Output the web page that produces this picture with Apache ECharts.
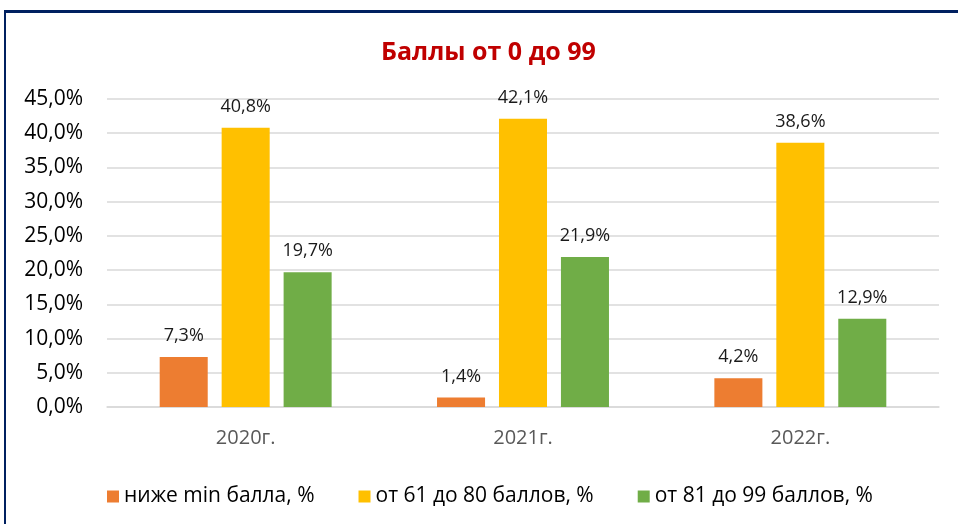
<!DOCTYPE html>
<html>
<head>
<meta charset="utf-8">
<script src="https://cdn.jsdelivr.net/npm/echarts@6/dist/echarts.min.js"></script>
<style>
  html, body { margin: 0; padding: 0; background: #fff; }
  #frame {
    position: absolute; left: 4px; top: 10px; width: 970px; height: 530px;
    border-left: 2px solid #002060; border-top: 3px solid #002060;
  }
  #chart { position: absolute; left: 0; top: 0; width: 958px; height: 524px; }
</style>
</head>
<body>
<div id="frame"></div>
<div id="chart"></div>
<script>
const categories = ["2020г.", "2021г.", "2022г."];
const seriesNames = ["ниже min балла, %", "от 61 до 80 баллов, %", "от 81 до 99 баллов, %"];
const belowMin = [7.3, 1.4, 4.2];
const from61to80 = [40.8, 42.1, 38.6];
const from81to99 = [19.7, 21.9, 12.9];
const colors = ["#ED7D31", "#FFC000", "#70AD47"];

const fmt = v => v.toFixed(1).replace(".", ",") + "%";
const font = "'Open Sans', 'Noto Sans', sans-serif";

function makeSeries(name, data) {
  return {
    name: name,
    type: "bar",
    data: data,
    barGap: "29%",
    barCategoryGap: "38%",
    label: {
      show: true,
      position: "top",
      distance: 12,
      color: "#1a1a1a",
      fontSize: 18,
      fontFamily: font,
      formatter: p => fmt(p.value)
    }
  };
}

const chart = echarts.init(document.getElementById("chart"));
chart.setOption({
  animation: false,
  color: colors,
  title: {
    text: "Баллы от 0 до 99",
    left: 376,
    top: 35,
    textStyle: { color: "#C00000", fontSize: 25, fontWeight: "bold", fontFamily: font }
  },
  legend: {
    top: 481,
    left: 102,
    itemWidth: 12,
    itemHeight: 12,
    itemGap: 44,
    icon: "rect",
    textStyle: { color: "#000", fontSize: 21, fontFamily: font }
  },
  grid: { left: 107, right: 19, top: 99, bottom: 117 },
  xAxis: {
    type: "category",
    data: categories,
    axisTick: { show: false },
    axisLine: { lineStyle: { color: "#D9D9D9", width: 1.5 } },
    axisLabel: { color: "#595959", fontSize: 20, fontFamily: font, margin: 21 }
  },
  yAxis: {
    type: "value",
    min: 0,
    max: 45,
    interval: 5,
    axisLabel: { color: "#000", fontSize: 21, fontFamily: font, margin: 24, formatter: v => fmt(v) },
    splitLine: { lineStyle: { color: "#D9D9D9", width: 1.5 } }
  },
  series: [
    makeSeries(seriesNames[0], belowMin),
    makeSeries(seriesNames[1], from61to80),
    makeSeries(seriesNames[2], from81to99)
  ]
});
</script>
</body>
</html>
